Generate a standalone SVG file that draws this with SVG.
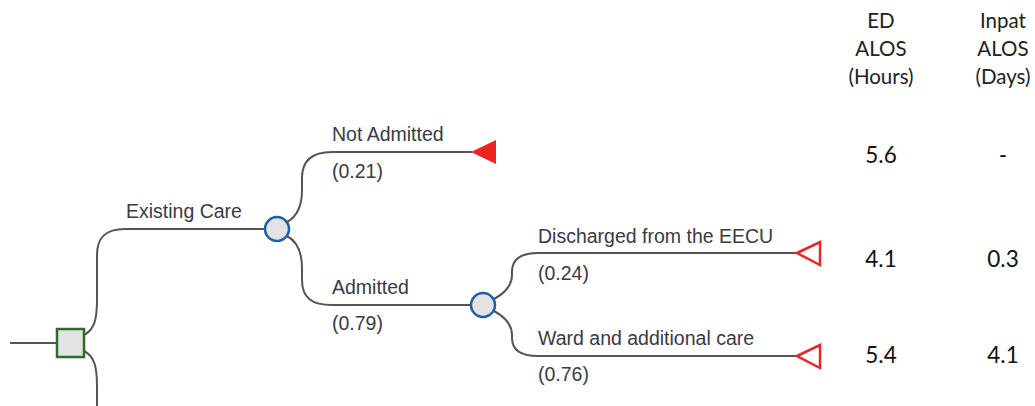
<svg xmlns="http://www.w3.org/2000/svg" width="1035" height="406" viewBox="0 0 1035 406">
<style>
.ln{fill:none;stroke:#555;stroke-width:2}
.chance{fill:#e3e3e3;stroke:#1f5fa8;stroke-width:2.5}
.lbl{font-family:"Liberation Sans",Arial,sans-serif;font-size:19.5px;fill:#3a3a44}
.col{font-family:Lato,"Open Sans",sans-serif;font-size:20.5px;fill:#222;text-anchor:middle}
.val{font-family:Lato,"Open Sans",sans-serif;font-size:22.5px;fill:#111;text-anchor:middle}
.term{fill:#fff;stroke:#e8262a;stroke-width:2.5}
</style>
<rect width="1035" height="406" fill="#fff"/>
<g id="connectors">
<path class="ln" d="M10,343 H57"/>
<path class="ln" d="M84,335 C94,330 97,320 97,300 L97,255 C97,238 105,229 125,229 L265,229"/>
<path class="ln" d="M84,351 C94,356 97,366 97,386 L97,406"/>
<path class="ln" d="M287,222 C298,216 302,205 302,190 L302,178 C302,160 312,152 332,152 L472,152"/>
<path class="ln" d="M287,236 C298,242 302,253 302,268 L302,280 C302,298 312,305 332,305 L471,305"/>
<path class="ln" d="M494,299 C505,293 512,285 512,275 L512,272 C512,260 520,253 538,253 L797,253"/>
<path class="ln" d="M494,311 C505,317 512,325 512,335 L512,338 C512,350 520,356 538,356 L797,356"/>
</g>
<g id="decision"><rect x="57" y="329" width="27" height="28" fill="#e3e3e3" stroke="#2e6b2e" stroke-width="2.5"/></g>
<g id="chance1"><circle class="chance" cx="277" cy="229" r="12"/></g>
<g id="chance2"><circle class="chance" cx="483" cy="305" r="12"/></g>
<g id="term-not-admitted"><polygon points="471,152 496,140 496,164" fill="#ee2424"/></g>
<g id="term-discharged"><polygon class="term" points="797,253 820,242 820,265"/></g>
<g id="term-ward"><polygon class="term" points="797,356 820,345 820,368"/></g>
<g id="labels">
<text class="lbl" x="126" y="218">Existing Care</text>
<text class="lbl" x="332" y="141">Not Admitted</text>
<text class="lbl" x="332" y="178">(0.21)</text>
<text class="lbl" x="332" y="294">Admitted</text>
<text class="lbl" x="332" y="330">(0.79)</text>
<text class="lbl" x="538" y="243">Discharged from the EECU</text>
<text class="lbl" x="538" y="280">(0.24)</text>
<text class="lbl" x="538" y="345">Ward and additional care</text>
<text class="lbl" x="538" y="381">(0.76)</text>
</g>
<g id="table">
<text class="col" x="881" y="28">ED</text>
<text class="col" x="881" y="56">ALOS</text>
<text class="col" x="881" y="84">(Hours)</text>
<text class="col" x="1003" y="28">Inpat</text>
<text class="col" x="1003" y="56">ALOS</text>
<text class="col" x="1003" y="84">(Days)</text>
<text class="val" x="881" y="163">5.6</text>
<text class="val" x="1003" y="163">-</text>
<text class="val" x="881" y="267">4.1</text>
<text class="val" x="1003" y="267">0.3</text>
<text class="val" x="881" y="363">5.4</text>
<text class="val" x="1003" y="363">4.1</text>
</g>
</svg>
